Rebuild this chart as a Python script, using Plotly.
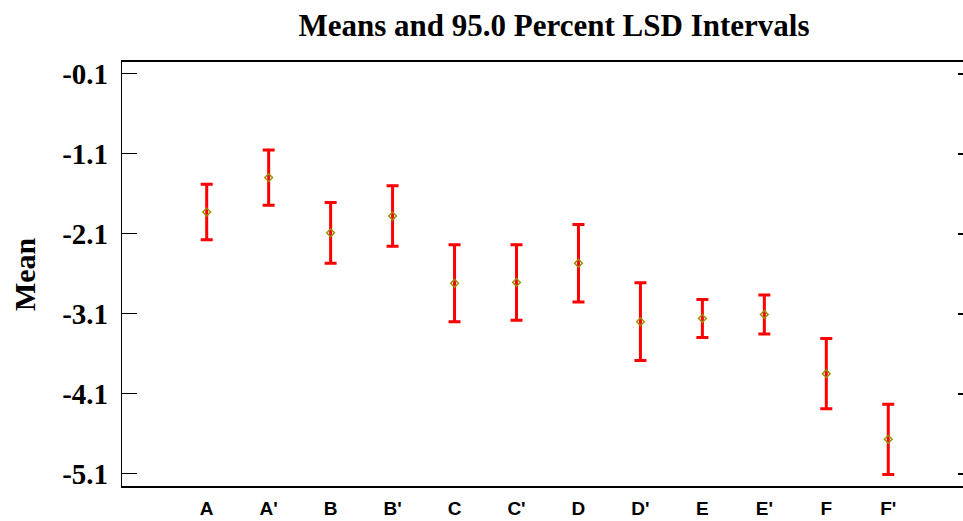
import plotly.graph_objects as go

categories = ["A", "A'", "B", "B'", "C", "C'", "D", "D'", "E", "E'", "F", "F'"]
means = [-1.83, -1.40, -2.09, -1.88, -2.72, -2.71, -2.47, -3.20, -3.16, -3.11, -3.85, -4.67]
lsd_half = [0.348, 0.346, 0.38, 0.379, 0.48, 0.472, 0.483, 0.485, 0.237, 0.243, 0.439, 0.439]
y_ticks = [-0.1, -1.1, -2.1, -3.1, -4.1, -5.1]
y_tick_labels = ["-0.1", "-1.1", "-2.1", "-3.1", "-4.1", "-5.1"]

y_range = [-5.254, 0.045]
x_range = [-1.367, 12.206]

fig = go.Figure()
fig.add_trace(go.Scatter(
    x=categories, y=means, mode="markers",
    marker=dict(symbol="diamond-open", size=6, color="#9c8c00", line=dict(width=1.4, color="#9c8c00")),
    error_y=dict(type="data", array=lsd_half, symmetric=True, color="#ff0000", thickness=3, width=6),
    showlegend=False, hoverinfo="x+y",
))
# invisible trace to anchor the right-hand mirrored tick axis
fig.add_trace(go.Scatter(
    x=categories, y=means, mode="markers", yaxis="y2",
    marker=dict(opacity=0), showlegend=False, hoverinfo="skip",
))

serif = "Liberation Serif, Times New Roman, serif"
fig.update_layout(
    width=963, height=521,
    margin=dict(l=122, r=0, t=62, b=35, autoexpand=False),
    plot_bgcolor="white", paper_bgcolor="white",
    title=dict(text="<b>Means and 95.0 Percent LSD Intervals</b>", x=0.5137, xref="paper",
               xanchor="center", y=1 - 25 / 521, yref="container", yanchor="middle",
               font=dict(family=serif, size=31, color="black")),
    xaxis=dict(range=x_range, showgrid=False, zeroline=False, showline=True, mirror=True,
               linecolor="black", linewidth=1.6, ticks="", ticklabelstandoff=4,
               tickfont=dict(family="Liberation Sans, Arial, sans-serif", size=19, color="black"),
               tickvals=categories, ticktext=["<b>%s</b>" % c for c in categories]),
    yaxis=dict(range=y_range, showgrid=False, zeroline=False, showline=True, mirror=False,
               linecolor="black", linewidth=1.3, ticks="inside", ticklen=15, tickwidth=1.3,
               tickcolor="black", tickvals=y_ticks,
               ticktext=["<b>%s</b>" % t for t in y_tick_labels], ticklabelstandoff=7,
               tickfont=dict(family=serif, size=29, color="black")),
    yaxis2=dict(range=y_range, overlaying="y", side="right", anchor="x", showgrid=False,
                zeroline=False, showline=False, ticks="inside", ticklen=5, tickwidth=1.5,
                tickcolor="black", tickvals=y_ticks, showticklabels=False),
    annotations=[dict(text="<b>Mean</b>", x=-0.1165, xref="paper", y=0.5, yref="paper",
                      xanchor="center", yanchor="middle", textangle=-90, showarrow=False,
                      font=dict(family=serif, size=30, color="black"))],
)

fig.write_html("out.html", config={"displayModeBar": False},
               post_script="document.body.style.margin='0';document.body.style.overflow='hidden';")
